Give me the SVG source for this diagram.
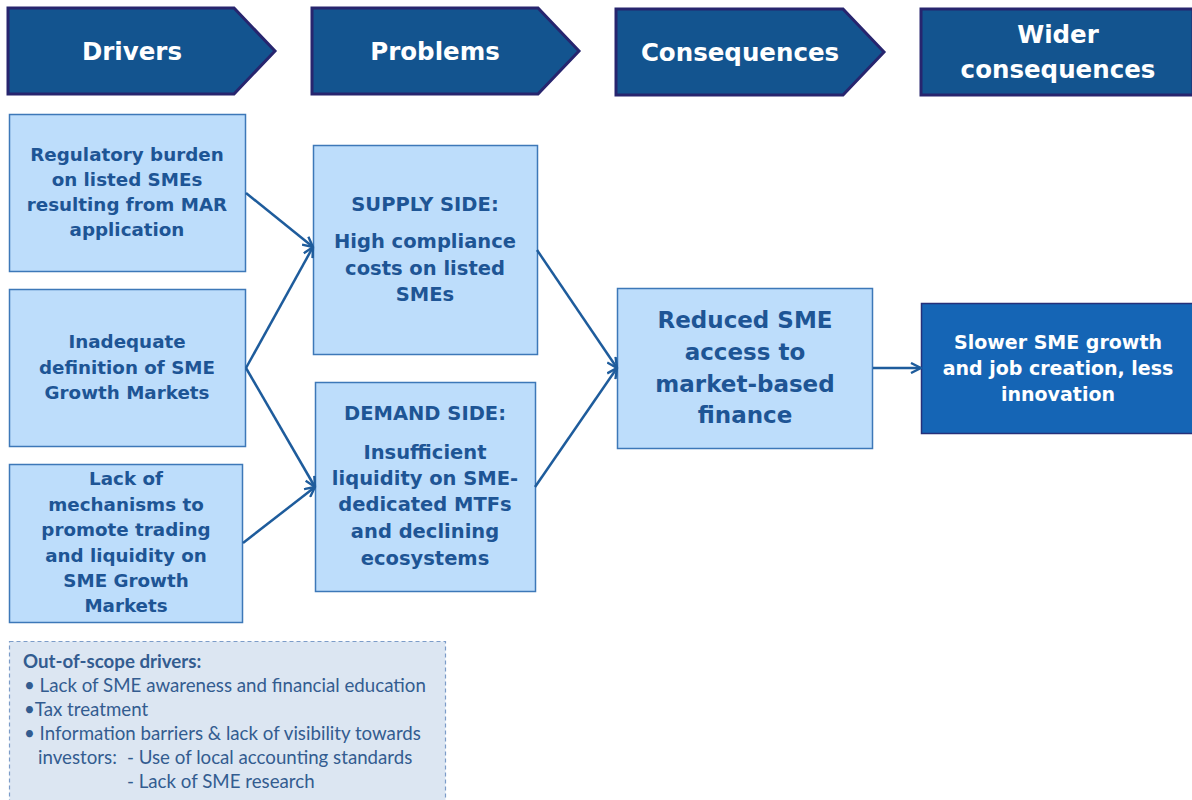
<svg xmlns="http://www.w3.org/2000/svg" width="1192" height="800" viewBox="0 0 1192 800">
<defs>
<style>
.hdr{fill:#13548F;stroke:#27256E;stroke-width:3}
.ht{font-family:"DejaVu Sans",Verdana,sans-serif;font-weight:bold;font-size:24.5px;fill:#ffffff;text-anchor:middle}
.box{fill:#BDDDFB;stroke:#3D78B8;stroke-width:1.5}
.bt{font-family:"DejaVu Sans",Verdana,sans-serif;font-weight:bold;font-size:18.3px;fill:#1E5595;text-anchor:middle}
.pt{font-family:"DejaVu Sans",Verdana,sans-serif;font-weight:bold;font-size:19.5px;fill:#1E5595;text-anchor:middle}
.ct{font-family:"DejaVu Sans",Verdana,sans-serif;font-weight:bold;font-size:23px;fill:#1E5595;text-anchor:middle}
.wbox{fill:#1565B5;stroke:#26307A;stroke-width:1.5}
.wt{font-family:"DejaVu Sans",Verdana,sans-serif;font-weight:bold;font-size:19px;fill:#ffffff;text-anchor:middle}
.oos{fill:#DCE6F2;stroke:#7C9CC8;stroke-width:1.2;stroke-dasharray:4 3}
.ot{font-family:Lato,"Open Sans",sans-serif;font-size:18.7px;fill:#335C90}
.conn{stroke:#1E5C9C;stroke-width:2.5;fill:none;marker-end:url(#arr)}
</style>
<marker id="arr" viewBox="0 0 12 12" refX="11" refY="6" markerWidth="12" markerHeight="12" markerUnits="userSpaceOnUse" orient="auto">
<path d="M1,1 L11,6 L1,11" fill="none" stroke="#1E5C9C" stroke-width="2.4"/>
</marker>
</defs>
<rect width="1192" height="800" fill="#ffffff"/>

<g id="hdr-drivers">
<polygon class="hdr" points="8,8 234,8 275,51 234,94 8,94"/>
<text class="ht" x="132" y="60">Drivers</text>
</g>
<g id="hdr-problems">
<polygon class="hdr" points="312,8 538,8 579,51 538,94 312,94"/>
<text class="ht" x="435" y="60">Problems</text>
</g>
<g id="hdr-consequences">
<polygon class="hdr" points="616,9 843,9 884,52 843,95 616,95"/>
<text class="ht" x="740" y="61">Consequences</text>
</g>
<g id="hdr-wider">
<rect class="hdr" x="921" y="9" width="272" height="86"/>
<text class="ht" x="1058" y="43">Wider</text>
<text class="ht" x="1058" y="78">consequences</text>
</g>

<g id="driver1">
<rect class="box" x="9.5" y="114.5" width="236" height="157"/>
<text class="bt" x="127" y="161">Regulatory burden</text>
<text class="bt" x="127" y="186">on listed SMEs</text>
<text class="bt" x="127" y="211">resulting from MAR</text>
<text class="bt" x="127" y="236">application</text>
</g>
<g id="driver2">
<rect class="box" x="9.5" y="289.5" width="236" height="157"/>
<text class="bt" x="127" y="348">Inadequate</text>
<text class="bt" x="127" y="374">definition of SME</text>
<text class="bt" x="127" y="399">Growth Markets</text>
</g>
<g id="driver3">
<rect class="box" x="9.5" y="464.5" width="233" height="158"/>
<text class="bt" x="126" y="485">Lack of</text>
<text class="bt" x="126" y="511">mechanisms to</text>
<text class="bt" x="126" y="536">promote trading</text>
<text class="bt" x="126" y="562">and liquidity on</text>
<text class="bt" x="126" y="587">SME Growth</text>
<text class="bt" x="126" y="612">Markets</text>
</g>

<g id="supply">
<rect class="box" x="313.5" y="145.5" width="224" height="209"/>
<text class="pt" x="425" y="211">SUPPLY SIDE:</text>
<text class="pt" x="425" y="248">High compliance</text>
<text class="pt" x="425" y="275">costs on listed</text>
<text class="pt" x="425" y="301">SMEs</text>
</g>
<g id="demand">
<rect class="box" x="315.5" y="382.5" width="220" height="209"/>
<text class="pt" x="425" y="420">DEMAND SIDE:</text>
<text class="pt" x="425" y="459">Insufficient</text>
<text class="pt" x="425" y="485">liquidity on SME-</text>
<text class="pt" x="425" y="511">dedicated MTFs</text>
<text class="pt" x="425" y="538">and declining</text>
<text class="pt" x="425" y="565">ecosystems</text>
</g>

<g id="consequence">
<rect class="box" x="617.5" y="288.5" width="255" height="160"/>
<text class="ct" x="745" y="328">Reduced SME</text>
<text class="ct" x="745" y="360">access to</text>
<text class="ct" x="745" y="392">market-based</text>
<text class="ct" x="745" y="423">finance</text>
</g>

<g id="wider">
<rect class="wbox" x="921.5" y="303.5" width="272" height="130"/>
<text class="wt" x="1058" y="349">Slower SME growth</text>
<text class="wt" x="1058" y="375">and job creation, less</text>
<text class="wt" x="1058" y="401">innovation</text>
</g>

<g id="connectors">
<line class="conn" x1="246" y1="193" x2="313" y2="247"/>
<line class="conn" x1="246" y1="368" x2="313" y2="247"/>
<line class="conn" x1="246" y1="368" x2="315" y2="487"/>
<line class="conn" x1="243" y1="543" x2="315" y2="487"/>
<line class="conn" x1="537" y1="250" x2="617" y2="368"/>
<line class="conn" x1="535" y1="487" x2="617" y2="368"/>
<line class="conn" x1="873" y1="368" x2="921" y2="368"/>
</g>

<g id="out-of-scope">
<rect class="oos" x="9.5" y="641.5" width="436" height="170"/>
<text class="ot" x="23" y="668" font-weight="bold">Out-of-scope drivers:</text>
<text class="ot" x="24" y="692">• Lack of SME awareness and financial education</text>
<text class="ot" x="24" y="716">•Tax treatment</text>
<text class="ot" x="24" y="740">• Information barriers &amp; lack of visibility towards</text>
<text class="ot" x="38" y="764">investors:</text>
<text class="ot" x="127" y="764">- Use of local accounting standards</text>
<text class="ot" x="127" y="788">- Lack of SME research</text>
</g>
</svg>
